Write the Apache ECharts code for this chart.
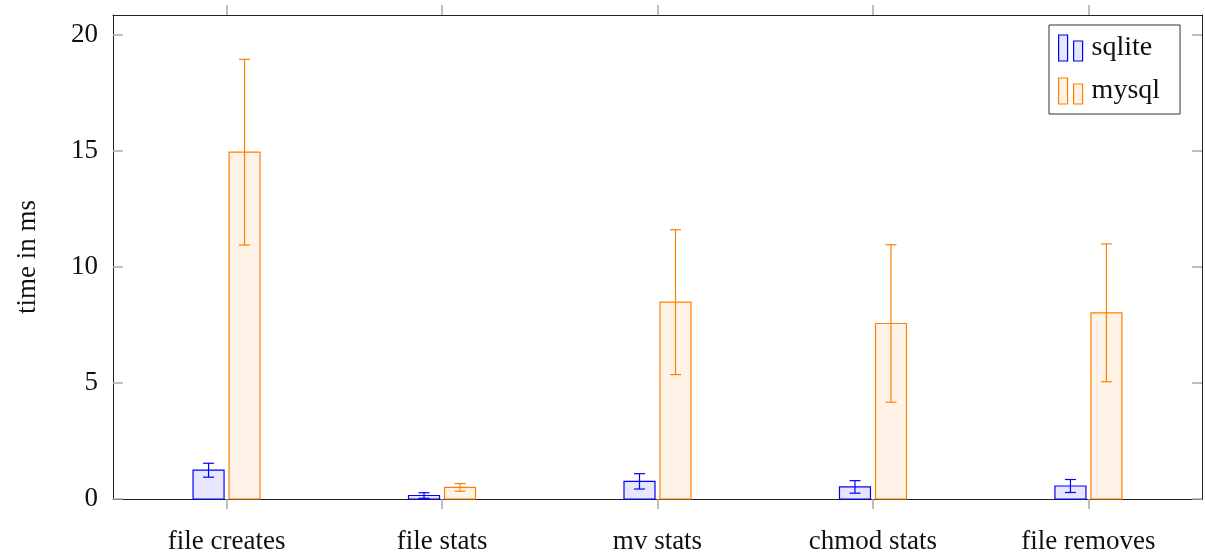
<!DOCTYPE html>
<html>
<head>
<meta charset="utf-8">
<script src="https://cdn.jsdelivr.net/npm/echarts@6/dist/echarts.min.js"></script>
<style>
  html, body { margin: 0; padding: 0; background: #fff; }
  #chart { width: 1205px; height: 560px; }
</style>
</head>
<body>
<div id="chart"></div>
<script>
const categories = ['file creates', 'file stats', 'mv stats', 'chmod stats', 'file removes']
const sqliteMean = [1.24, 0.15, 0.76, 0.52, 0.56]
const sqliteErr = [0.30, 0.12, 0.33, 0.27, 0.28]
const mysqlMean = [14.94, 0.50, 8.48, 7.56, 8.02]
const mysqlErr = [4.0, 0.165, 3.12, 3.39, 2.97]
const yTicks = [0, 5, 10, 15, 20]

const FONT = "'Liberation Serif', serif"
const tickIdx = categories.map((c, i) => i)

const chart = echarts.init(document.getElementById('chart'))

// bar + error bar drawn through the axis scales
function barRenderer(offset, stroke, fill) {
  return function (params, api) {
    const x = api.value(0)
    const v = api.value(1)
    const e = api.value(2)
    const top = api.coord([x, v])
    const base = api.coord([x, 0])
    const cx = top[0] + offset
    const eTop = api.coord([x, v + e])[1]
    const eBot = api.coord([x, v - e])[1]
    const lineStyle = { stroke: stroke, lineWidth: 1.2 }
    return {
      type: 'group',
      children: [
        {
          type: 'rect',
          shape: { x: cx - 15.5, y: top[1], width: 31, height: base[1] - top[1] },
          style: { fill: fill, stroke: stroke, lineWidth: 1.2 }
        },
        { type: 'line', shape: { x1: cx, y1: eTop, x2: cx, y2: eBot }, style: lineStyle },
        { type: 'line', shape: { x1: cx - 5.5, y1: eTop, x2: cx + 5.5, y2: eTop }, style: lineStyle },
        { type: 'line', shape: { x1: cx - 5.5, y1: eBot, x2: cx + 5.5, y2: eBot }, style: lineStyle }
      ]
    }
  }
}

const legendIcon = 'path://M0,0h9v26h-9zM15,6h9v20h-9z'

function xAxisDef(pos, labels) {
  return {
    type: 'value',
    position: pos,
    min: -0.527,
    max: 4.527,
    splitLine: { show: false },
    axisLine: { show: true, onZero: false, lineStyle: { color: '#222', width: 1 } },
    axisTick: { show: true, customValues: tickIdx, inside: false, length: 10, lineStyle: { color: '#aaa', width: 1.5 } },
    axisLabel: labels ? {
      show: true,
      customValues: tickIdx,
      formatter: v => categories[Math.round(v)],
      margin: 29,
      fontFamily: FONT,
      fontSize: 27,
      color: '#111'
    } : { show: false }
  }
}

function yAxisDef(pos, labels) {
  return {
    type: 'value',
    position: pos,
    min: 0,
    max: 20.85,
    splitLine: { show: false },
    axisLine: { show: true, onZero: false, lineStyle: { color: '#222', width: 1 } },
    axisTick: { show: true, customValues: yTicks, inside: true, length: 10, lineStyle: { color: '#aaa', width: 1.5 } },
    axisLabel: labels ? {
      show: true,
      customValues: yTicks,
      margin: 15,
      fontFamily: FONT,
      fontSize: 27,
      color: '#111'
    } : { show: false },
    name: labels ? 'time in ms' : '',
    nameLocation: 'middle',
    nameRotate: 90,
    nameGap: 72,
    nameTextStyle: { fontFamily: FONT, fontSize: 27, color: '#111' }
  }
}

chart.setOption({
  animation: false,
  grid: { left: 113, right: 3, top: 15, bottom: 61 },
  legend: {
    orient: 'vertical',
    left: 1049,
    top: 25,
    width: 130,
    padding: [9, 20, 9, 9],
    itemWidth: 24,
    itemHeight: 26,
    itemGap: 15,
    borderColor: '#333',
    borderWidth: 1,
    backgroundColor: '#fff',
    selectedMode: false,
    textStyle: { fontFamily: FONT, fontSize: 28, color: '#111', padding: [0, 0, 0, 4] },
    data: [
      { name: 'sqlite', icon: legendIcon, itemStyle: { color: '#e6e6ff', borderColor: '#0000ff', borderWidth: 1.2 } },
      { name: 'mysql', icon: legendIcon, itemStyle: { color: '#fff2e6', borderColor: '#ff8000', borderWidth: 1.2 } }
    ]
  },
  xAxis: [xAxisDef('bottom', true), xAxisDef('top', false)],
  yAxis: [yAxisDef('left', true), yAxisDef('right', false)],
  series: [
    {
      name: 'sqlite',
      type: 'custom',
      itemStyle: { color: '#e6e6ff', borderColor: '#0000ff' },
      renderItem: barRenderer(-18, '#0000ff', '#e6e6ff'),
      encode: { x: 0, y: 1 },
      data: categories.map((c, i) => [i, sqliteMean[i], sqliteErr[i]])
    },
    {
      name: 'mysql',
      type: 'custom',
      itemStyle: { color: '#fff2e6', borderColor: '#ff8000' },
      renderItem: barRenderer(18, '#ff8000', '#fff2e6'),
      encode: { x: 0, y: 1 },
      data: categories.map((c, i) => [i, mysqlMean[i], mysqlErr[i]])
    }
  ]
})
</script>
</body>
</html>
